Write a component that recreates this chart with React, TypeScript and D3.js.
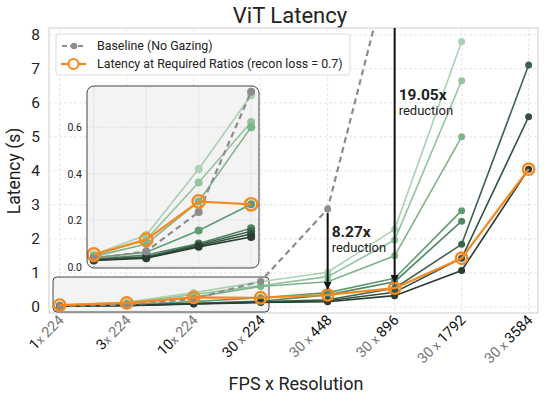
import React from 'react';
import * as d3 from 'd3';

// categories on the x axis
const fps = [1, 3, 10, 30, 30, 30, 30, 30];
const resolution = [224, 224, 224, 224, 448, 896, 1792, 3584];

// latency (s) without gazing
const baseline: (number | null)[] = [0.035, 0.065, 0.235, 0.752, 2.88, 10.6, null, null];

// latency per gazing ratio, light to dark
const ratio1: (number | null)[] = [0.052, 0.136, 0.42, 0.737, 1.02, 2.28, 7.8, null];
const ratio2: (number | null)[] = [0.047, 0.116, 0.362, 0.622, 0.89, 1.97, 6.65, null];
const ratio3: (number | null)[] = [0.043, 0.097, 0.28, 0.6, 0.74, 1.5, 5.0, null];
const ratio4: (number | null)[] = [0.038, 0.062, 0.155, 0.268, 0.42, 0.84, 2.83, null];
const ratio5: (number | null)[] = [0.033, 0.05, 0.099, 0.165, 0.353, 0.74, 2.52, null];
const ratio6: (number | null)[] = [0.03, 0.042, 0.095, 0.152, 0.21, 0.55, 1.84, 7.11];
const ratio7: (number | null)[] = [0.028, 0.039, 0.09, 0.14, 0.18, 0.43, 1.43, 5.59];
const ratio8: (number | null)[] = [0.026, 0.036, 0.085, 0.127, 0.15, 0.33, 1.07, 4.05];
const ratios = [ratio1, ratio2, ratio3, ratio4, ratio5, ratio6, ratio7, ratio8];
const ratioColors = ['#a9d1b2', '#93c49f', '#7cb58a', '#5e9d72', '#4d8660', '#3e644d', '#33513f', '#2a3d31'];

// which ratio is required at each resolution
const requiredRatio = [0, 1, 2, 3, 4, 5, 6, 7];

const reductions = [
  { index: 4, label: '8.27x' },
  { index: 5, label: '19.05x' },
];

const yTicks = [0, 1, 2, 3, 4, 5, 6, 7, 8];
const insetTicks = [0, 0.2, 0.4, 0.6];

const FONT = 'Roboto, "Noto Sans", sans-serif';
const ORANGE = '#f5891f';
const GRAY = '#8c8c8c';

type Pt = [number, number | null];

const App: React.FC = () => {
  const W = 546, H = 404;
  const x = d3.scaleLinear().domain([-0.16, 7.14]).range([49, 538]);
  const y = d3.scaleLinear().domain([-0.18, 8.2]).range([313, 28]);

  const xi = d3.scaleLinear().domain([-0.13, 3.15]).range([87, 259]);
  const yi = d3.scaleLinear().domain([-0.006, 0.777]).range([268, 86]);

  const orange = requiredRatio.map((r, i) => ratios[r][i]);

  const mkLine = (sx: d3.ScaleLinear<number, number>, sy: d3.ScaleLinear<number, number>) =>
    d3.line<Pt>()
      .defined(d => d[1] != null)
      .x(d => sx(d[0]))
      .y(d => sy(d[1] as number));

  const pts = (vals: (number | null)[], n = 8): Pt[] => vals.slice(0, n).map((v, i) => [i, v]);

  const drawSeries = (
    sx: d3.ScaleLinear<number, number>,
    sy: d3.ScaleLinear<number, number>,
    n: number,
    r: number
  ) => {
    const line = mkLine(sx, sy);
    return (
      <g>
        {ratios.map((s, k) => (
          <g key={k}>
            <path d={line(pts(s, n)) || ''} fill="none" stroke={ratioColors[k]} strokeWidth={1.6} />
            {pts(s, n).filter(d => d[1] != null).map(d => (
              <circle key={d[0]} cx={sx(d[0])} cy={sy(d[1] as number)} r={r} fill={ratioColors[k]} />
            ))}
          </g>
        ))}
        <path d={line(pts(baseline, n)) || ''} fill="none" stroke={GRAY} strokeWidth={2.2} strokeDasharray="6,4" />
        {pts(baseline, n).filter(d => d[1] != null).map(d => (
          <circle key={d[0]} cx={sx(d[0])} cy={sy(d[1] as number)} r={r} fill={GRAY} />
        ))}
        <path d={line(pts(orange, n)) || ''} fill="none" stroke={ORANGE} strokeWidth={2.2} />
        {pts(orange, n).map(d => (
          <circle key={d[0]} cx={sx(d[0])} cy={sy(d[1] as number)} r={r + 2.2} fill="none" stroke={ORANGE} strokeWidth={2.4} />
        ))}
      </g>
    );
  };

  return (
    <svg width={W} height={H} style={{ position: 'absolute', left: 0, top: 0, fontFamily: FONT }}>
      <defs>
        <clipPath id="plotClip">
          <rect x={49} y={28} width={489} height={285} />
        </clipPath>
        <clipPath id="insetClip">
          <rect x={87} y={86} width={172} height={182} rx={7} />
        </clipPath>
        <marker id="arrowHead" viewBox="0 0 10 10" refX={9} refY={5} markerWidth={4} markerHeight={4} orient="auto">
          <path d="M0,0 L10,5 L0,10 z" fill="#111" />
        </marker>
      </defs>

      <rect x={0} y={0} width={W} height={H} fill="#fff" />

      <text x={290} y={23} textAnchor="middle" fontSize={22} fill="#222">ViT Latency</text>

      {/* plot frame and grid */}
      <rect x={49} y={28} width={489} height={285} fill="#fff" stroke="#d6d6d6" strokeWidth={1.2} />
      {yTicks.map(t => (
        <line key={t} x1={49} x2={538} y1={y(t)} y2={y(t)} stroke="#e4e4e4" strokeDasharray="3,2" />
      ))}
      {fps.map((_, i) => (
        <line key={i} x1={x(i)} x2={x(i)} y1={28} y2={313} stroke="#e4e4e4" strokeDasharray="3,2" />
      ))}

      {/* zoomed region */}
      <rect x={53} y={277} width={216} height={35} rx={4} fill="#f3f3f3" stroke="#444" strokeWidth={1} />

      <g clipPath="url(#plotClip)">{drawSeries(x, y, 8, 3.5)}</g>

      {/* reduction arrows */}
      {reductions.map(r => {
        const base = baseline[r.index] as number;
        const top = Math.max(y(base) + 4, 28);
        const tip = y(orange[r.index] as number) - 6;
        const ty = Math.max(top + 24, 100);
        return (
          <g key={r.label}>
            <line x1={x(r.index)} x2={x(r.index)} y1={top} y2={tip} stroke="#111" strokeWidth={2} markerEnd="url(#arrowHead)" />
            <text x={x(r.index) + 4} y={ty} fontSize={15.5} fontWeight="bold" fill="#222">{r.label}</text>
            <text x={x(r.index) + 4} y={ty + 15} fontSize={13} fill="#222">reduction</text>
          </g>
        );
      })}

      {/* y axis */}
      {yTicks.map(t => (
        <text key={t} x={40} y={y(t) + 5} textAnchor="end" fontSize={15.5} fill="#222">{t}</text>
      ))}
      <text transform="translate(20,171) rotate(-90)" textAnchor="middle" fontSize={17.5} fill="#222">Latency (s)</text>

      {/* x axis */}
      {fps.map((f, i) => (
        <text
          key={i}
          transform={`translate(${x(i) + 5},${321}) rotate(-45)`}
          textAnchor="end"
          fontSize={14.5}
        >
          <tspan fill={i <= 3 ? '#111' : '#777'}>{f}</tspan>
          <tspan fill="#777" fontSize={12.5}>{i < 3 ? 'x ' : ' x '}</tspan>
          <tspan fill={i >= 3 ? '#111' : '#777'}>{resolution[i]}</tspan>
        </text>
      ))}
      <text x={296} y={390} textAnchor="middle" fontSize={18} fill="#222">FPS x Resolution</text>

      {/* inset */}
      <rect x={87} y={86} width={172} height={182} rx={7} fill="#f3f3f3" />
      <g clipPath="url(#insetClip)">
        {insetTicks.map(t => (
          <line key={t} x1={87} x2={259} y1={yi(t)} y2={yi(t)} stroke="#d8d8d8" strokeDasharray="1.5,1.5" />
        ))}
        {[0, 1, 2, 3].map(i => (
          <line key={i} x1={xi(i)} x2={xi(i)} y1={86} y2={268} stroke="#d8d8d8" strokeDasharray="1.5,1.5" />
        ))}
        {drawSeries(xi, yi, 4, 4)}
      </g>
      <rect x={87} y={86} width={172} height={182} rx={7} fill="none" stroke="#444" strokeWidth={1} />
      {insetTicks.map(t => (
        <text key={t} x={82} y={yi(t) + 4} textAnchor="end" fontSize={10.5} fill="#222">{t.toFixed(1)}</text>
      ))}

      {/* legend */}
      <rect x={56} y={34} width={294} height={41} rx={3} fill="#fff" stroke="#dcdcdc" />
      <line x1={62} x2={86} y1={46} y2={46} stroke={GRAY} strokeWidth={2.2} strokeDasharray="5,3" />
      <circle cx={74} cy={46} r={3.2} fill={GRAY} />
      <text x={97} y={50} fontSize={12.4} fill="#222">Baseline (No Gazing)</text>
      <line x1={61} x2={86} y1={64} y2={64} stroke={ORANGE} strokeWidth={2.2} />
      <circle cx={73.5} cy={64} r={5} fill="#fff" stroke={ORANGE} strokeWidth={2.2} />
      <text x={97} y={68} fontSize={12.4} fill="#222">Latency at Required Ratios (recon loss = 0.7)</text>
    </svg>
  );
};

export default App;
